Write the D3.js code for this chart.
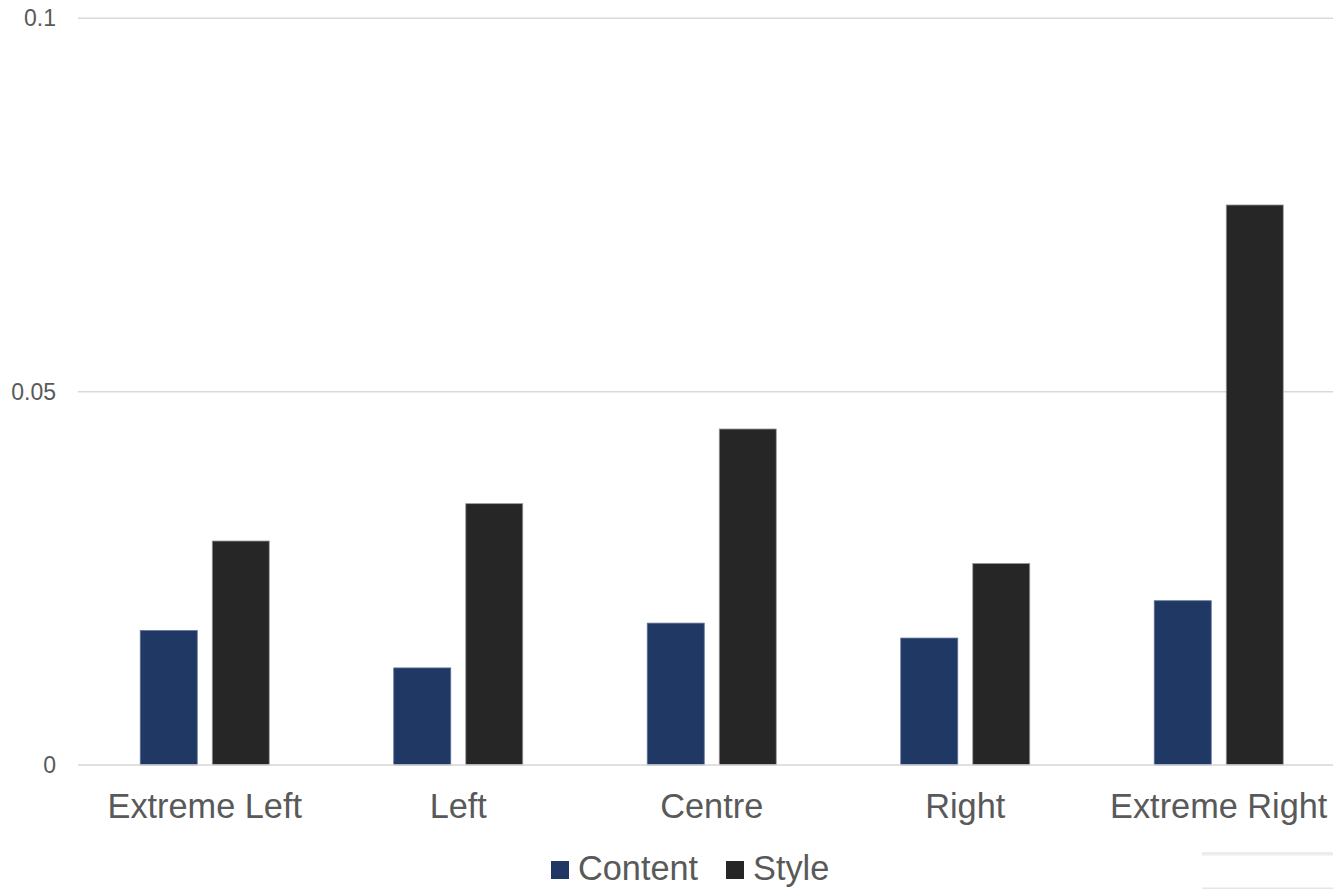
<!DOCTYPE html>
<html>
<head>
<meta charset="utf-8">
<script src="https://cdn.jsdelivr.net/npm/d3@7"></script>
<style>
  html, body { margin: 0; padding: 0; background: #ffffff; }
  svg { display: block; font-family: "Liberation Sans", Arial, sans-serif; }
</style>
</head>
<body>
<svg id="chart" width="1333" height="889"></svg>
<script>
// Political position groups and the two measured series
const categories = ["Extreme Left", "Left", "Centre", "Right", "Extreme Right"];
const seriesNames = ["Content", "Style"];
const contentValues = [0.018, 0.013, 0.019, 0.017, 0.022];
const styleValues = [0.030, 0.035, 0.045, 0.027, 0.075];
const yTicks = [0, 0.05, 0.1];
const yTickLabels = ["0", "0.05", "0.1"];

const colors = { Content: "#1f3864", Style: "#262626" };
const strokes = { Content: "#5f7197", Style: "#9a9a9a" };

const rows = categories.map((c, i) => ({
  category: c,
  Content: contentValues[i],
  Style: styleValues[i]
}));

const svg = d3.select("#chart");
const textColor = "#595959";

const plotLeft = 78, plotRight = 1345.5, plotTop = 18.3, plotBottom = 765;

const x0 = d3.scaleBand()
  .domain(categories)
  .range([plotLeft, plotRight])
  .paddingInner(0.4911)
  .paddingOuter(0.4911 / 2);

const x1 = d3.scaleBand()
  .domain(seriesNames)
  .range([0, x0.bandwidth()])
  .paddingInner(15 / 72)
  .paddingOuter(0);

const y = d3.scaleLinear()
  .domain([0, 0.1])
  .range([plotBottom, plotTop]);

// Horizontal gridlines
svg.append("g")
  .selectAll("line")
  .data(yTicks.filter(t => t !== 0))
  .join("line")
  .attr("x1", plotLeft)
  .attr("x2", 1333)
  .attr("y1", d => y(d))
  .attr("y2", d => y(d))
  .attr("stroke", "#d9d9d9")
  .attr("stroke-width", 1.5);

// Y tick labels
svg.append("g")
  .selectAll("text")
  .data(yTicks)
  .join("text")
  .attr("x", 56)
  .attr("y", d => y(d))
  .attr("dy", "0.35em")
  .attr("text-anchor", "end")
  .attr("font-size", 23)
  .attr("fill", textColor)
  .text((d, i) => yTickLabels[i]);

// Bars
const groups = svg.append("g")
  .selectAll("g")
  .data(rows)
  .join("g")
  .attr("transform", d => `translate(${x0(d.category)},0)`);

groups.selectAll("rect")
  .data(d => seriesNames.map(s => ({ key: s, value: d[s] })))
  .join("rect")
  .attr("x", d => x1(d.key))
  .attr("width", x1.bandwidth())
  .attr("y", d => y(d.value))
  .attr("height", d => y(0) - y(d.value))
  .attr("fill", d => colors[d.key])
  .attr("stroke", d => strokes[d.key])
  .attr("stroke-width", 0.8);

// Baseline axis
svg.append("line")
  .attr("x1", plotLeft)
  .attr("x2", 1333)
  .attr("y1", y(0))
  .attr("y2", y(0))
  .attr("stroke", "#d6d6d6")
  .attr("stroke-width", 1.5);

// Category labels
svg.append("g")
  .selectAll("text")
  .data(categories)
  .join("text")
  .attr("x", d => x0(d) + x0.bandwidth() / 2)
  .attr("y", 817.5)
  .attr("text-anchor", "middle")
  .attr("font-size", 34.3)
  .attr("fill", textColor)
  .text(d => d);

// Legend
const legendItems = [
  { key: "Content", markerX: 551, textX: 578 },
  { key: "Style", markerX: 726, textX: 753 }
];
const legend = svg.append("g");
legend.selectAll("rect")
  .data(legendItems)
  .join("rect")
  .attr("x", d => d.markerX)
  .attr("y", 861)
  .attr("width", 18)
  .attr("height", 18)
  .attr("fill", d => colors[d.key]);
legend.selectAll("text")
  .data(legendItems)
  .join("text")
  .attr("x", d => d.textX)
  .attr("y", 879.5)
  .attr("font-size", 34.3)
  .attr("fill", textColor)
  .text(d => d.key);

// Faint rule segments at the lower right edge
svg.append("rect")
  .attr("x", 1202).attr("y", 852).attr("width", 131).attr("height", 3.5)
  .attr("fill", "#ececec");
svg.append("rect")
  .attr("x", 1202).attr("y", 887.5).attr("width", 131).attr("height", 1.5)
  .attr("fill", "#e6e6e6");
</script>
</body>
</html>
